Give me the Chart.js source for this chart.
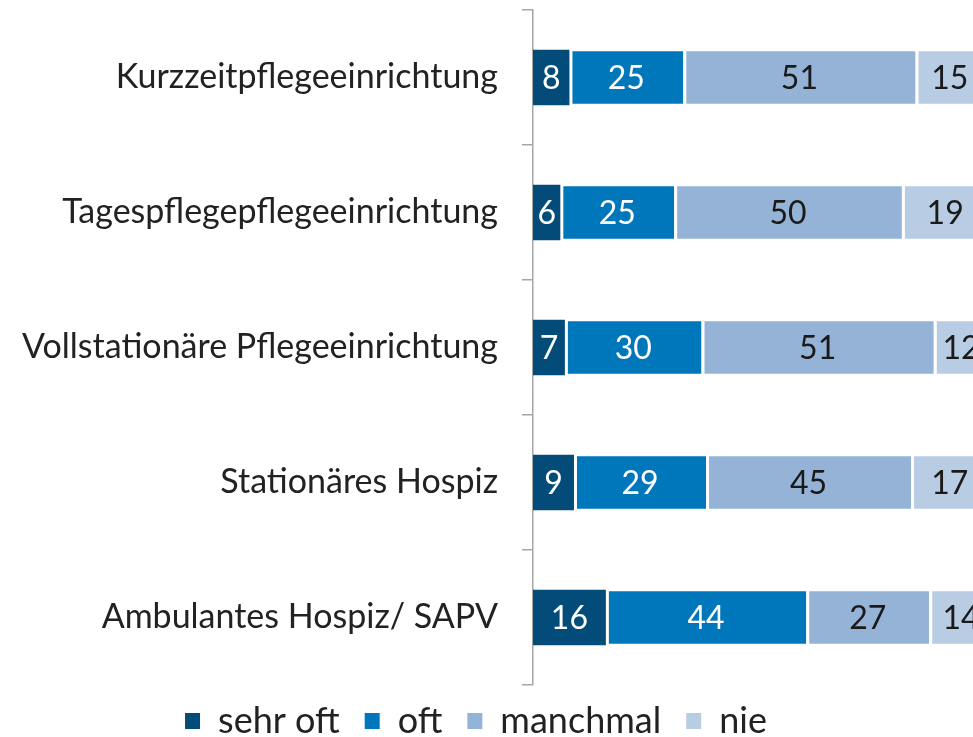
<!DOCTYPE html>
<html>
<head>
<meta charset="utf-8">
<script src="https://cdn.jsdelivr.net/npm/chart.js@4/dist/chart.umd.min.js"></script>
<style>
  html, body { margin: 0; padding: 0; background: #fff; overflow: hidden; }
  #wrap { width: 973px; height: 737px; position: relative; }
</style>
</head>
<body>
<div id="wrap"><canvas id="c" width="973" height="737"></canvas></div>
<script>
const categories = [
  "Kurzzeitpflegeeinrichtung",
  "Tagespflegepflegeeinrichtung",
  "Vollstationäre Pflegeeinrichtung",
  "Stationäres Hospiz",
  "Ambulantes Hospiz/ SAPV"
];
const seriesNames = ["sehr oft", "oft", "manchmal", "nie"];
const sehrOft  = [8, 6, 7, 9, 16];
const oft      = [25, 25, 30, 29, 44];
const manchmal = [51, 50, 51, 45, 27];
const nie      = [15, 19, 12, 17, 14];
const colors = ["#034b78", "#0077bb", "#95b3d7", "#b8cce4"];
const labelColors = ["#ffffff", "#ffffff", "#1a1a1a", "#1a1a1a"];

const FONT = "Lato, 'Open Sans', sans-serif";

const valueLabels = {
  id: 'valueLabels',
  afterDatasetsDraw(chart) {
    const ctx = chart.ctx;
    ctx.save();
    ctx.font = "32px " + FONT;
    ctx.textAlign = 'center';
    ctx.textBaseline = 'middle';
    chart.data.datasets.forEach((ds, i) => {
      const meta = chart.getDatasetMeta(i);
      meta.data.forEach((el, j) => {
        const v = ds.data[j];
        const cx = (el.x + el.base) / 2;
        ctx.fillStyle = labelColors[i];
        ctx.fillText(String(v), cx, el.y + 1);
      });
    });
    ctx.restore();
  }
};

const legendFit = {
  id: 'legendFit',
  afterInit(chart) {
    const lg = chart.legend;
    if (lg && !lg._patched) {
      const f = lg.fit;
      lg.fit = function () { f.call(this); this.height = 52; };
      const d = lg.draw;
      lg.draw = function () {
        this.top -= 7;
        d.call(this);
        this.top += 7;
      };
      lg._patched = true;
    }
  }
};

const dsList = [sehrOft, oft, manchmal, nie].map((arr, i) => ({
  label: seriesNames[i],
  data: arr,
  backgroundColor: colors[i],
  borderColor: '#ffffff',
  borderWidth: i === 0 ? 0 : { left: 3, right: 0, top: 1.5, bottom: 1.5 },
  borderSkipped: false,
  barPercentage: 0.41,
  categoryPercentage: 1,
  clip: false
}));

new Chart(document.getElementById('c'), {
  type: 'bar',
  data: { labels: categories, datasets: dsList },
  options: {
    indexAxis: 'y',
    responsive: false,
    animation: false,
    layout: { padding: { top: 10, right: 21, left: 0, bottom: 0 } },
    scales: {
      x: {
        stacked: true,
        display: false,
        min: 0,
        max: 92
      },
      y: {
        stacked: true,
        afterFit(scale) {
          scale.width = 533;
          scale.paddingTop = 0;
          scale.paddingBottom = 0;
        },
        border: { display: true, color: '#a6a6a6', width: 1.5 },
        grid: {
          display: true,
          offset: true,
          drawOnChartArea: false,
          drawTicks: true,
          tickLength: 11,
          color: '#a6a6a6',
          lineWidth: 1.5
        },
        ticks: {
          padding: 24,
          color: '#222222',
          font: { family: FONT, size: 34 }
        }
      }
    },
    plugins: {
      tooltip: { enabled: false },
      legend: {
        position: 'bottom',
        labels: {
          boxWidth: 15,
          boxHeight: 16,
          padding: 25,
          color: '#222222',
          font: { family: FONT, size: 36 },
          generateLabels(chart) {
            return chart.data.datasets.map((ds, i) => ({
              text: ds.label,
              fillStyle: colors[i],
              strokeStyle: colors[i],
              lineWidth: 0,
              hidden: false,
              datasetIndex: i,
              fontColor: '#222222'
            }));
          }
        }
      }
    }
  },
  plugins: [valueLabels, legendFit]
});
</script>
</body>
</html>
